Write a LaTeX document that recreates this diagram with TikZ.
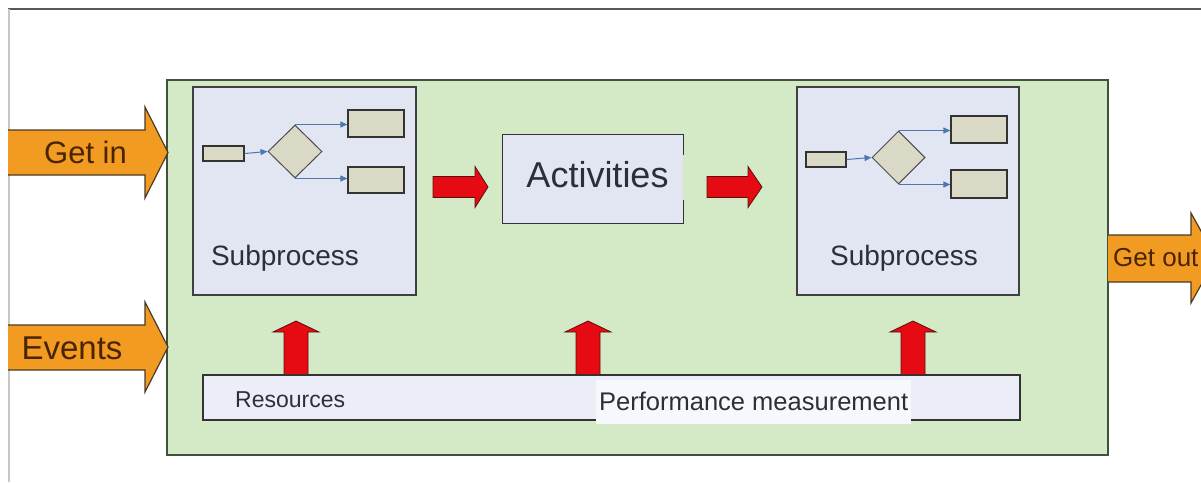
\documentclass[tikz,border=0pt]{standalone}
\usepackage{fontspec}
\setmainfont{Liberation Sans}
\usetikzlibrary{arrows.meta,shapes.geometric}

\definecolor{areagreen}{HTML}{D4EAC6}
\definecolor{areaedge}{HTML}{3E523E}
\definecolor{subfill}{HTML}{E2E6F3}
\definecolor{stepfill}{HTML}{DAD9C6}
\definecolor{flowblue}{HTML}{4A78B0}
\definecolor{barfill}{HTML}{ECEEF7}
\definecolor{arrowred}{HTML}{E60A12}
\definecolor{reddark}{HTML}{5A1010}
\definecolor{inorange}{HTML}{F29B22}
\definecolor{inedge}{HTML}{4B3A26}
\definecolor{intext}{HTML}{4A2400}
\definecolor{labelgray}{HTML}{2E2E38}

\tikzset{
  greenbox/.style={draw=areaedge, line width=1.5pt, fill=areagreen, inner sep=0pt},
  subbox/.style={draw=black!75, line width=1.2pt, fill=subfill, inner sep=0pt},
  stepbox/.style={draw=black!80, line width=1.2pt, fill=stepfill, inner sep=0pt},
  choice/.style={diamond, draw=black!70, line width=1pt, fill=stepfill, inner sep=0pt},
  flow/.style={draw=flowblue, line width=1pt, -{Triangle[length=7pt,width=6pt]}},
  barbox/.style={draw=black!80, line width=1.2pt, fill=barfill, inner sep=0pt},
  lbl/.style={text=labelgray, inner sep=0pt},
  inarrow/.style={fill=inorange, draw=inedge, line width=1.2pt, line join=miter},
  inlbl/.style={text=intext, inner sep=0pt},
  redarrow/.style={fill=arrowred, draw=reddark, line width=0.8pt, line join=miter},
}

\begin{document}
\begin{tikzpicture}[x=1pt, y=-1pt]
\useasboundingbox (0,0) rectangle (1201,482);
\begin{scope}
\clip (0,0) rectangle (1201,482);

% page frame
\draw[black!65, line width=1.5pt] (8,9) -- (1201,9);
\draw[black!22, line width=2pt] (9,9) -- (9,482);

% process area
\node[greenbox, minimum width=941pt, minimum height=375pt] (area) at (637.5,267.5) {};

% incoming and outgoing block arrows
\draw[inarrow] (8,130) -- (145,130) -- (145,107) -- (168,152.5) -- (145,198) -- (145,175) -- (8,175);
\node[inlbl, font=\fontsize{31}{33}\selectfont] (getin) at (85.5,152) {Get in};

\draw[inarrow] (8,325) -- (145,325) -- (145,302) -- (168,347) -- (145,392) -- (145,370) -- (8,370);
\node[inlbl, font=\fontsize{33}{35}\selectfont] (events) at (72,348) {Events};

\draw[inarrow] (1108,235) -- (1191,235) -- (1191,213) -- (1216,258) -- (1191,303) -- (1191,282) -- (1108,282);
\node[inlbl, font=\fontsize{26}{28}\selectfont, anchor=west] (getout) at (1113,258) {Get out};

% left subprocess
\node[subbox, minimum width=223pt, minimum height=208pt] (subA) at (304.5,191) {};
\node[stepbox, minimum width=41pt, minimum height=15pt] (inA) at (223.5,153.5) {};
\node[choice, minimum width=54pt, minimum height=53pt] (decA) at (295,151.5) {};
\node[stepbox, minimum width=56pt, minimum height=27pt] (upA) at (376,123.5) {};
\node[stepbox, minimum width=56pt, minimum height=26pt] (loA) at (376,180) {};
\draw[flow] (inA.east) -- (decA.west);
\draw[flow] (decA.north) -- (decA.north -| upA.west);
\draw[flow] (decA.south) -- (decA.south -| loA.west);
\node[lbl, font=\fontsize{28}{30}\selectfont] (txtA) at (285,258) {Subprocess};

% right subprocess
\node[subbox, minimum width=222pt, minimum height=208pt] (subB) at (908,191) {};
\node[stepbox, minimum width=40pt, minimum height=15pt] (inB) at (826,159.5) {};
\node[choice, minimum width=53pt, minimum height=53pt] (decB) at (898.5,157.5) {};
\node[stepbox, minimum width=56pt, minimum height=27pt] (upB) at (979,129.5) {};
\node[stepbox, minimum width=56pt, minimum height=28pt] (loB) at (979,184) {};
\draw[flow] (inB.east) -- (decB.west);
\draw[flow] (decB.north) -- (decB.north -| upB.west);
\draw[flow] (decB.south) -- (decB.south -| loB.west);
\node[lbl, font=\fontsize{28}{30}\selectfont] (txtB) at (904,258) {Subprocess};

% activities box, right edge interrupted
\node[fill=subfill, inner sep=0pt, minimum width=180pt, minimum height=88pt] (act) at (593,179) {};
\draw[black!80, line width=1.2pt] ([yshift=-20pt]act.north east) -- (act.north east) -- (act.north west)
  -- (act.south west) -- (act.south east) -- ([yshift=23pt]act.south east);
\node[lbl, font=\fontsize{36}{38}\selectfont] (acttxt) at (597.5,175) {Activities};

% red flow arrows between stages
\draw[redarrow] (433,176.5) -- (475,176.5) -- (475,166.5) -- (488,187) -- (475,207.5) -- (475,197.5) -- (433,197.5) -- cycle;
\draw[redarrow] (707,176.5) -- (748,176.5) -- (748,166.5) -- (762,187) -- (748,207.5) -- (748,197.5) -- (707,197.5) -- cycle;

% resources bar
\node[barbox, minimum width=817pt, minimum height=45pt] (bar) at (611.5,397.5) {};
\node[lbl, font=\fontsize{23}{25}\selectfont, anchor=west] (res) at (235,400) {Resources};
\node[lbl, font=\fontsize{25.5}{27}\selectfont, fill=white!60!barfill, inner xsep=3pt, anchor=west,
      minimum height=44pt] (perf) at (596,401.5) {Performance measurement};

% supply arrows from the bar
\foreach \cx in {296,588,913}{
  \draw[redarrow] (\cx-12,374) -- (\cx-12,332) -- (\cx-23,332) -- (\cx,321) -- (\cx+23,332) -- (\cx+12,332) -- (\cx+12,374);
}
\end{scope}
\end{tikzpicture}
\end{document}
